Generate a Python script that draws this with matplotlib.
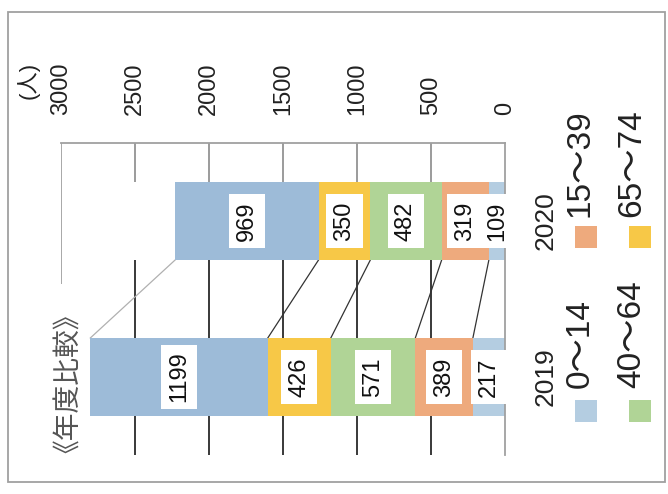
import matplotlib
matplotlib.use('Agg')
import matplotlib.pyplot as plt
from matplotlib.patches import Rectangle
from matplotlib.transforms import blended_transform_factory
import numpy as np

plt.rcParams['font.family'] = ['Liberation Sans', 'Noto Sans CJK JP']

# ---------------- data ----------------
years = ['2019', '2020']
group_names = ['0～14', '15～39', '40～64', '65～74', '75～']
age_0_14 = [217, 109]
age_15_39 = [389, 319]
age_40_64 = [571, 482]
age_65_74 = [426, 350]
age_75_over = [1199, 969]
x_ticks = [0, 500, 1000, 1500, 2000, 2500, 3000]
title = '《年度比較》'
unit_label = '(人)'

series = [age_0_14, age_15_39, age_40_64, age_65_74, age_75_over]
colors = ['#b4cde1', '#eeaa7d', '#b0d496', '#f7c847', '#9dbbd8']

W, H = 668, 494
fig = plt.figure(figsize=(W / 100, H / 100), dpi=100)
fig.patch.set_facecolor('white')

# outer frame
fig.patches.append(Rectangle((8 / W, 1 - 482 / H), (665 - 8) / W, (482 - 12) / H,
                             transform=fig.transFigure, fill=False,
                             ec='#a0a0a0', lw=1.3))

ax = fig.add_axes([61 / W, 1 - 455 / H, (505 - 61) / W, (455 - 143) / H])
ax.set_xlim(3000, 0)
ax.set_ylim(-0.5, 1.5)

ypos = np.arange(len(years))
bar_h = 0.5

# grid lines
for t in x_ticks[1:]:
    if t == 3000:
        ax.vlines(t, -0.5, 1.5, color='#9a9a9a', lw=1.2, zorder=0)
    else:
        ax.vlines(t, 1.0 + bar_h / 2, 1.5, color='#8a8a8a', lw=1.2, zorder=0)
        ax.vlines(t, bar_h / 2, 1.0 - bar_h / 2, color='#2a2a2a', lw=1.3, zorder=0)
        ax.vlines(t, -0.5, -bar_h / 2, color='#2a2a2a', lw=1.3, zorder=0)

# stacked bars
left = np.zeros(len(years))
cums = []
for vals, col in zip(series, colors):
    vals = np.array(vals, dtype=float)
    ax.barh(ypos, vals, left=left, height=bar_h, color=col, zorder=2)
    for i, v in enumerate(vals):
        ax.text(left[i] + v / 2, ypos[i], str(int(v)), rotation=90,
                ha='center', va='center', fontsize=17, color='#111111',
                bbox=dict(boxstyle='square,pad=0.3', fc='white', ec='none'),
                zorder=5, clip_on=False)
    left = left + vals
    cums.append(left.copy())

# series lines between the bars
for k, c in enumerate(cums):
    col = '#b0b0b0' if k == len(cums) - 1 else '#333333'
    ax.plot([c[1], c[0]], [ypos[1] - bar_h / 2, ypos[0] + bar_h / 2],
            color=col, lw=0.9, zorder=1)

# axes styling
for s in ['left', 'bottom']:
    ax.spines[s].set_visible(False)
for s in ['top', 'right']:
    ax.spines[s].set_color('#a0a0a0')
    ax.spines[s].set_linewidth(1.3)
ax.xaxis.tick_top()
ax.set_xticks(x_ticks)
ax.set_xticklabels([str(t) for t in x_ticks])
ax.tick_params(axis='x', length=0, pad=20, labelsize=17, labelrotation=90,
               colors='#222222')
ax.set_yticks([])

# category labels
trans = blended_transform_factory(ax.transAxes, ax.transData)
for i, yr in enumerate(years):
    ax.text(1 + 41 / 444, ypos[i], yr, rotation=90, ha='center', va='center',
            fontsize=19, color='#222222', transform=trans, clip_on=False)

# unit label
fig.text(28 / W, 1 - 80 / H, unit_label, rotation=90, ha='center', va='center',
         fontsize=16, color='#222222')

# title
fig.text(55 / W, 1 - 370 / H, title, rotation=90, ha='center', va='center',
         fontsize=20, color='#555555', family=['Noto Sans CJK JP'],
         bbox=dict(boxstyle='square,pad=0.1', fc='white', ec='none'), zorder=10)

# legend (rotated, drawn manually)
leg_pos = [(580, 586, 388, 411), (580, 586, 217, 237),
           (632, 640, 388, 411), (632, 640, 217, 237)]
for (tx, mx, ty, my), name, col in zip(leg_pos, group_names[:4], colors[:4]):
    fig.patches.append(Rectangle(((mx - 11) / W, 1 - (my + 11) / H), 22 / W, 22 / H,
                                 transform=fig.transFigure, fc=col, ec='none'))
    fig.text(tx / W, 1 - ty / H, name, rotation=90, ha='center', va='bottom',
             fontsize=24, color='#222222')

fig.savefig('out.png', dpi=100)
